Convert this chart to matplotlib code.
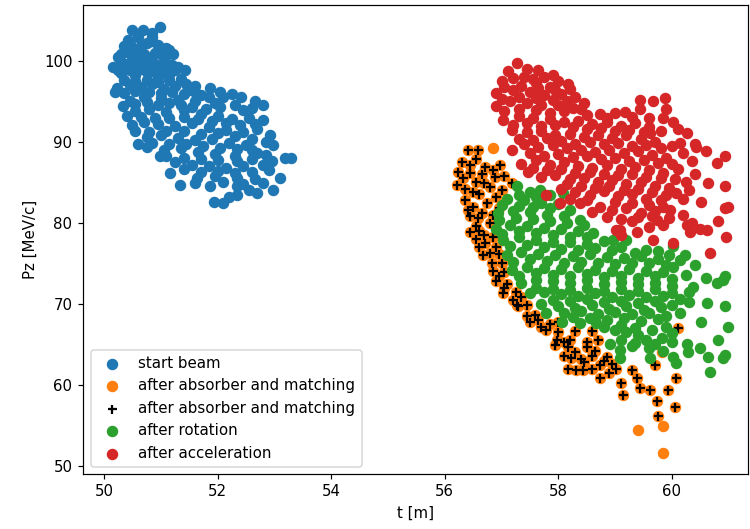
import numpy as np
import matplotlib
matplotlib.use("Agg")
import matplotlib.pyplot as plt

# (t [m], Pz [MeV/c]) pairs
start_beam = np.array([
    (50.99, 104.2), (50.49, 103.8), (50.69, 103.8), (50.84, 103.0), (50.43, 102.6), (50.60, 102.9),
    (50.75, 102.2), (50.95, 102.0), (50.35, 101.8), (50.55, 101.5), (50.30, 100.8), (50.25, 100.5),
    (50.50, 100.6), (50.70, 100.9), (50.90, 101.0), (51.05, 100.4), (51.22, 100.9), (50.16, 99.3),
    (50.40, 99.6), (50.60, 99.4), (50.80, 99.8), (51.00, 99.2), (51.20, 99.5), (51.43, 98.9),
    (50.30, 98.5), (50.55, 98.2), (50.75, 98.6), (50.95, 98.0), (51.15, 98.3), (51.35, 97.8),
    (50.22, 96.6), (50.19, 96.2), (50.45, 97.0), (50.65, 96.8), (50.85, 97.2), (51.05, 96.5),
    (51.25, 96.9), (51.50, 96.4), (51.87, 96.6), (51.70, 95.8), (52.10, 95.6), (52.42, 95.6),
    (52.80, 94.6), (52.60, 94.2), (52.30, 94.5), (51.95, 94.8), (51.60, 95.0), (51.30, 95.2),
    (51.00, 95.4), (50.70, 95.6), (50.45, 95.0), (50.34, 94.4), (50.55, 93.8), (50.80, 94.0),
    (51.10, 93.7), (51.40, 93.9), (51.70, 93.5), (52.00, 93.2), (52.25, 92.8), (52.55, 92.9),
    (52.80, 92.7), (50.49, 92.1), (50.70, 92.4), (50.95, 92.2), (51.25, 92.0), (51.55, 92.3),
    (51.85, 91.8), (52.15, 91.5), (52.45, 91.2), (52.70, 91.6), (52.92, 90.9), (50.60, 89.8),
    (50.75, 90.6), (51.00, 90.8), (51.30, 90.5), (51.60, 90.2), (51.90, 90.4), (52.20, 89.9),
    (52.50, 89.6), (52.98, 89.6), (50.75, 89.4), (51.05, 89.0), (51.35, 89.2), (51.65, 88.8),
    (51.95, 88.5), (52.30, 88.3), (52.70, 88.6), (53.19, 88.0), (53.30, 88.0), (50.99, 88.2),
    (51.25, 87.5), (51.55, 87.2), (51.85, 87.0), (52.15, 86.8), (52.45, 87.0), (52.80, 87.2),
    (51.16, 86.1), (51.63, 85.5), (51.95, 85.8), (52.35, 85.6), (52.65, 85.4), (53.10, 85.5),
    (51.34, 84.7), (51.87, 84.5), (52.34, 84.5), (52.55, 84.0), (52.98, 84.1), (52.69, 83.7),
    (52.34, 83.5), (52.10, 82.4), (51.93, 82.6), (52.20, 83.2),
    (50.60, 103.3), (50.85, 103.5), (50.45, 102.1), (50.65, 101.9), (50.85, 102.5), (51.10, 101.6),
    (50.40, 101.1), (50.60, 100.7), (50.80, 100.3), (51.00, 100.8), (51.15, 101.3), (50.30, 99.9),
    (50.50, 100.1), (50.70, 99.9), (50.90, 99.6), (51.10, 99.8), (51.30, 99.2), (50.25, 98.9),
    (50.45, 98.9), (50.65, 99.0), (50.85, 98.8), (51.05, 98.6), (51.25, 98.9), (50.35, 97.6),
    (50.55, 97.5), (50.75, 97.7), (50.95, 97.4), (51.15, 97.6), (51.45, 97.2), (51.60, 96.9),
    (50.35, 96.0), (50.55, 96.3), (50.80, 96.1), (51.00, 96.0), (51.20, 96.2), (51.40, 95.9),
    (51.60, 96.2), (51.85, 95.6), (52.05, 96.2), (52.25, 95.9), (50.55, 94.7), (50.75, 94.9),
    (50.95, 94.6), (51.15, 94.8), (51.35, 94.5), (51.55, 94.3), (51.80, 94.1), (52.05, 94.3),
    (52.45, 93.9), (52.65, 95.1), (50.40, 93.2), (50.65, 93.1), (50.90, 93.0), (51.15, 92.9),
    (51.40, 93.1), (51.65, 92.8), (51.90, 92.6), (52.15, 92.3), (52.40, 92.1), (52.65, 92.2),
    (50.55, 91.3), (50.80, 91.2), (51.10, 91.4), (51.40, 91.3), (51.70, 91.0), (52.00, 91.1),
    (52.30, 90.7), (52.60, 90.3), (52.85, 90.0), (50.85, 89.9), (51.15, 89.7), (51.45, 89.8),
    (51.75, 89.5), (52.05, 89.3), (52.35, 89.1), (52.60, 89.0), (52.85, 88.4), (51.10, 88.3),
    (51.40, 88.0), (51.70, 87.9), (52.00, 87.8), (52.35, 87.6), (52.60, 87.9), (52.95, 87.6),
    (51.40, 86.6), (51.70, 86.3), (52.00, 86.4), (52.30, 86.1), (52.60, 86.3), (52.90, 86.5),
    (51.60, 84.9), (52.10, 85.0), (52.45, 84.8), (52.80, 84.9),
])

# points that carry a "+" as well
absorber_core = np.array([
    (56.41, 89.0), (56.59, 89.0), (56.24, 86.3), (56.21, 84.7), (56.44, 87.2), (56.71, 86.9),
    (56.97, 87.2), (56.88, 85.7), (56.36, 82.8), (56.41, 81.6), (56.44, 78.9), (56.33, 85.5),
    (56.55, 85.0), (56.60, 83.6), (56.80, 84.4), (57.00, 84.0), (57.18, 84.9), (56.50, 82.0),
    (56.75, 82.5), (56.95, 81.8), (56.59, 80.6), (56.80, 80.0), (56.55, 79.6), (56.70, 78.5),
    (56.71, 77.5), (56.68, 76.0), (56.90, 77.0), (56.83, 75.0), (57.00, 75.0), (56.95, 73.5),
    (57.10, 72.5), (57.03, 71.3), (57.20, 70.5), (57.27, 69.9), (57.44, 69.9), (57.29, 69.7),
    (57.59, 68.6), (57.50, 67.8), (57.79, 66.8), (57.97, 65.6), (57.70, 67.2), (58.00, 66.5),
    (58.17, 64.7), (58.23, 63.3), (58.17, 62.0), (58.32, 61.9), (58.44, 61.9), (58.50, 64.7),
    (58.40, 63.2), (58.60, 63.6), (58.73, 62.5), (58.85, 63.5), (58.73, 60.8), (59.02, 62.0),
    (59.11, 60.2), (59.14, 58.8), (59.38, 60.8), (59.44, 59.6), (59.61, 59.4), (59.73, 58.0),
    (59.76, 56.1), (60.05, 57.3), (60.08, 60.8), (59.94, 59.4), (59.70, 62.5), (59.82, 64.1),
    (60.11, 67.0), (58.90, 61.5), (59.30, 61.9), (58.20, 65.5),
    (56.55, 87.9), (56.30, 87.5), (56.45, 86.2), (56.65, 86.0), (56.85, 86.5), (57.05, 85.8),
    (56.35, 84.2), (56.50, 83.8), (56.70, 84.9), (56.90, 83.2), (56.45, 80.9), (56.65, 81.2),
    (56.85, 81.0), (56.60, 79.0), (56.55, 78.0), (56.85, 78.3), (56.60, 77.0), (56.80, 76.3),
    (56.95, 76.2), (56.85, 74.0), (57.05, 73.9), (56.90, 72.8), (57.05, 72.0), (57.25, 71.5),
    (57.35, 70.8), (57.45, 68.5), (57.65, 68.0), (57.85, 67.5), (57.95, 64.9), (58.10, 65.3),
    (58.30, 64.0), (58.10, 63.6), (58.45, 62.8), (58.60, 62.0), (58.65, 64.2), (58.80, 63.0),
    (58.95, 62.6), (58.50, 65.3), (58.70, 65.6), (58.00, 67.8), (58.30, 66.7), (58.60, 66.6),
])
# orange points without a "+"
absorber_extra = np.array([(56.85, 89.2), (59.41, 54.4), (59.84, 54.9), (59.84, 51.6)])

after_rotation = np.array([
    (57.27, 84.5), (57.68, 84.1), (57.85, 83.5), (58.09, 83.7), (57.50, 83.8), (57.10, 83.0),
    (57.40, 82.8), (57.70, 82.5), (58.00, 82.3), (56.94, 81.2), (57.20, 81.5), (57.50, 81.3),
    (57.80, 81.0), (58.10, 80.8), (58.38, 80.4), (56.91, 79.3), (57.15, 79.8), (57.45, 79.6),
    (57.75, 79.4), (58.05, 79.2), (58.35, 79.0), (58.61, 78.7), (57.03, 77.9), (57.30, 78.2),
    (57.60, 77.9), (57.90, 77.7), (58.20, 77.6), (58.50, 77.4), (58.80, 77.8), (58.97, 77.9),
    (59.20, 77.9), (59.10, 77.0), (59.55, 76.7), (57.09, 76.0), (57.35, 76.4), (57.65, 76.2),
    (57.95, 76.0), (58.25, 75.9), (58.55, 76.1), (58.85, 75.8), (59.15, 75.7), (59.45, 75.9),
    (59.75, 75.6), (60.02, 77.1), (60.23, 76.0), (57.18, 74.2), (57.45, 74.6), (57.75, 74.4),
    (58.05, 74.3), (58.35, 74.5), (58.65, 74.2), (58.95, 74.0), (59.25, 74.3), (59.55, 74.1),
    (59.85, 73.9), (60.02, 74.6), (60.40, 74.8), (57.35, 72.6), (57.60, 73.0), (57.90, 72.8),
    (58.20, 72.6), (58.50, 72.9), (58.80, 72.5), (59.10, 72.7), (59.40, 72.4), (59.70, 72.6),
    (60.00, 72.2), (60.37, 72.1), (60.79, 72.6), (60.93, 73.4), (60.90, 73.0), (57.50, 71.3),
    (57.75, 71.5), (58.05, 71.2), (58.35, 71.0), (58.65, 71.3), (58.95, 70.9), (59.25, 71.1),
    (59.55, 70.8), (59.85, 71.0), (60.15, 70.6), (57.79, 68.9), (57.70, 70.0), (58.00, 69.8),
    (58.30, 69.5), (58.60, 69.9), (58.90, 69.4), (59.20, 69.7), (59.50, 69.3), (59.80, 69.6),
    (60.61, 70.1), (60.93, 69.8), (60.14, 68.9), (58.06, 67.8), (58.38, 67.6), (58.67, 67.6),
    (58.25, 68.4), (58.55, 68.2), (58.85, 68.0), (59.15, 68.3), (59.45, 67.9), (59.75, 68.1),
    (59.90, 67.2), (60.52, 67.8), (60.99, 67.2), (60.82, 65.6), (59.55, 65.6), (59.82, 65.8),
    (58.91, 65.1), (59.20, 66.5), (59.00, 66.8), (59.40, 66.2), (60.26, 65.1), (60.29, 64.1),
    (60.49, 64.5), (60.93, 63.7), (60.90, 63.3), (60.64, 63.5), (60.67, 61.6), (60.02, 63.5),
    (60.08, 62.7), (59.61, 63.3), (59.08, 63.3), (59.08, 64.3), (59.30, 64.8), (59.60, 64.5),
    (59.85, 64.2),
    (57.30, 83.4), (57.60, 83.2), (57.00, 82.2), (57.30, 82.1), (57.55, 82.0), (57.85, 81.8),
    (58.20, 81.6), (56.95, 80.3), (57.25, 80.6), (57.55, 80.5), (57.85, 80.2), (58.15, 80.0),
    (58.45, 79.7), (57.00, 78.6), (57.30, 79.0), (57.60, 78.7), (57.90, 78.5), (58.20, 78.3),
    (58.50, 78.2), (57.15, 77.1), (57.45, 77.3), (57.75, 77.0), (58.05, 76.8), (58.35, 76.7),
    (58.65, 76.9), (58.95, 76.6), (59.35, 76.3), (59.75, 76.5), (59.95, 76.0), (57.20, 75.2),
    (57.50, 75.5), (57.80, 75.3), (58.10, 75.1), (58.40, 75.2), (58.70, 75.0), (59.00, 74.9),
    (59.30, 75.1), (59.60, 75.0), (59.90, 74.8), (60.15, 75.4), (57.30, 73.5), (57.60, 73.8),
    (57.90, 73.6), (58.20, 73.4), (58.50, 73.7), (58.80, 73.3), (59.10, 73.5), (59.40, 73.2),
    (59.70, 73.4), (60.00, 73.1), (60.25, 73.6), (60.60, 73.2), (57.60, 72.0), (57.90, 71.9),
    (58.20, 71.7), (58.50, 72.0), (58.80, 71.6), (59.10, 71.8), (59.40, 71.6), (59.70, 71.8),
    (60.00, 71.4), (60.30, 71.5), (57.90, 70.5), (58.20, 70.3), (58.50, 70.6), (58.80, 70.2),
    (59.10, 70.4), (59.40, 70.1), (59.70, 70.3), (60.00, 69.9), (60.30, 70.2), (58.10, 68.9),
    (58.40, 69.1), (58.70, 68.8), (59.00, 69.0), (59.30, 68.7), (59.60, 68.9), (59.90, 68.5),
    (58.80, 67.1), (59.10, 67.4), (59.35, 67.0), (59.65, 66.8), (60.00, 66.4), (59.10, 65.6),
    (59.35, 65.2), (59.70, 65.0), (60.00, 65.3),
])

after_acceleration = np.array([
    (57.27, 99.7), (57.12, 98.7), (57.65, 98.9), (57.91, 98.3), (58.17, 97.2), (57.40, 98.0),
    (57.00, 97.5), (57.60, 97.3), (57.85, 96.8), (56.91, 96.0), (57.20, 96.4), (57.50, 96.2),
    (57.75, 95.8), (58.05, 95.9), (58.30, 95.5), (56.91, 94.4), (57.15, 95.0), (57.45, 94.8),
    (57.70, 94.5), (58.00, 94.6), (58.25, 94.2), (58.50, 93.3), (58.73, 93.5), (59.00, 93.6),
    (59.17, 93.7), (59.44, 94.0), (59.44, 95.2), (59.67, 95.0), (59.88, 95.4), (59.90, 94.0),
    (57.03, 92.7), (57.30, 93.2), (57.55, 93.0), (57.85, 92.8), (58.10, 92.5), (58.35, 92.6),
    (58.60, 92.2), (58.85, 92.4), (59.10, 92.0), (59.35, 92.3), (59.60, 91.8), (60.02, 92.5),
    (60.26, 91.1), (57.18, 91.5), (57.45, 91.2), (57.70, 91.4), (57.95, 90.9), (58.20, 91.0),
    (58.45, 90.6), (58.70, 90.9), (58.95, 90.5), (59.20, 90.8), (59.45, 90.3), (59.70, 90.0),
    (59.61, 91.1), (60.00, 89.5), (60.40, 89.8), (60.43, 89.4), (57.18, 89.0), (57.40, 89.8),
    (57.65, 89.4), (57.90, 89.6), (58.15, 89.2), (58.40, 89.0), (58.65, 88.7), (58.90, 89.0),
    (59.15, 88.6), (59.40, 88.9), (59.65, 88.4), (59.90, 88.0), (60.20, 88.6), (60.79, 87.4),
    (60.93, 88.2), (57.35, 87.3), (57.60, 87.8), (57.85, 87.2), (58.10, 87.5), (58.35, 87.0),
    (58.60, 86.8), (58.85, 87.1), (59.10, 86.6), (59.35, 86.9), (59.60, 86.5), (59.85, 86.2),
    (60.10, 86.6), (60.40, 86.0), (57.47, 86.3), (57.70, 85.7), (57.95, 85.9), (58.20, 85.4),
    (58.45, 85.6), (58.70, 85.0), (58.95, 85.3), (59.20, 84.8), (59.45, 85.0), (59.70, 84.6),
    (59.95, 84.3), (60.64, 84.9), (60.93, 84.5), (57.79, 83.5), (58.05, 84.2), (58.30, 83.8),
    (58.55, 83.5), (58.80, 83.9), (59.05, 83.3), (59.30, 83.6), (59.55, 83.0), (59.80, 82.8),
    (60.08, 83.7), (58.03, 82.4), (58.38, 82.4), (58.73, 82.0), (58.60, 81.3), (58.95, 81.6),
    (59.20, 81.8), (59.45, 81.2), (59.70, 81.5), (59.96, 81.6), (60.52, 82.6), (60.99, 82.0),
    (60.93, 81.8), (59.08, 79.1), (59.30, 80.2), (59.38, 78.9), (59.73, 80.4), (59.60, 79.5),
    (59.85, 79.8), (60.02, 77.5), (60.32, 78.9), (60.26, 79.8), (60.49, 79.3), (60.61, 79.1),
    (60.82, 80.2), (60.96, 78.3), (60.67, 76.3), (59.67, 77.9), (59.11, 78.5), (59.02, 79.1),
    (57.45, 99.0), (57.20, 97.9), (57.55, 97.8), (57.75, 98.0), (58.00, 97.5), (57.05, 96.8),
    (57.35, 96.9), (57.65, 96.6), (57.95, 96.4), (58.20, 96.5), (57.00, 95.3), (57.30, 95.6),
    (57.60, 95.4), (57.90, 95.2), (58.15, 95.0), (58.45, 94.8), (57.05, 93.8), (57.30, 94.1),
    (57.60, 93.9), (57.85, 93.6), (58.10, 93.8), (58.40, 94.0), (58.85, 93.0), (59.30, 93.1),
    (59.60, 92.9), (59.85, 93.0), (57.20, 92.1), (57.45, 92.3), (57.70, 92.0), (57.95, 92.1),
    (58.25, 91.8), (58.50, 91.6), (58.75, 91.7), (59.00, 91.4), (59.25, 91.5), (59.50, 91.2),
    (59.80, 91.3), (60.10, 91.6), (57.30, 90.4), (57.55, 90.2), (57.80, 90.5), (58.05, 90.1),
    (58.30, 89.8), (58.55, 90.0), (58.80, 89.7), (59.05, 89.9), (59.30, 89.5), (59.55, 89.6),
    (59.80, 89.2), (60.15, 89.9), (57.50, 88.6), (57.75, 88.3), (58.00, 88.5), (58.25, 88.1),
    (58.50, 88.2), (58.75, 87.9), (59.00, 88.0), (59.25, 87.7), (59.50, 87.8), (59.75, 87.4),
    (60.00, 87.3), (60.35, 87.6), (60.60, 88.9), (57.55, 86.8), (57.80, 86.5), (58.05, 86.6),
    (58.30, 86.2), (58.55, 86.3), (58.80, 86.0), (59.05, 85.9), (59.30, 86.0), (59.55, 85.7),
    (59.80, 85.5), (60.05, 85.4), (60.25, 85.1), (58.15, 84.8), (58.40, 84.6), (58.65, 84.3),
    (58.90, 84.5), (59.15, 84.0), (59.40, 84.2), (59.65, 83.8), (59.90, 83.5), (60.30, 84.0),
    (58.20, 83.0), (58.50, 82.8), (59.00, 82.6), (59.30, 82.5), (59.60, 82.2), (59.85, 82.0),
    (60.20, 82.9), (58.85, 80.7), (59.10, 80.5), (59.40, 80.7), (59.65, 80.9), (59.95, 80.6),
    (60.20, 81.0), (60.35, 80.0),
])

absorber_all = np.vstack([absorber_core, absorber_extra])

fig = plt.figure(figsize=(750 / 108, 529 / 108), dpi=108)
ax = fig.add_axes([83 / 750, 55 / 529, 665 / 750, 469 / 529])

dot = 44
ax.scatter(start_beam[:, 0], start_beam[:, 1], s=dot, label="start beam")
ax.scatter(absorber_all[:, 0], absorber_all[:, 1], s=dot, label="after absorber and matching")
ax.scatter(absorber_core[:, 0], absorber_core[:, 1], marker="+", c="black", label="after absorber and matching")
ax.scatter(after_rotation[:, 0], after_rotation[:, 1], s=dot, label="after rotation")
ax.scatter(after_acceleration[:, 0], after_acceleration[:, 1], s=dot, label="after acceleration")

ax.set_xlim(49.63, 61.34)
ax.set_ylim(49.0, 106.9)
ax.set_xlabel("t [m]")
ax.set_ylabel("Pz [MeV/c]")
ax.legend(loc="lower left")

fig.savefig("out.png", dpi=108)
